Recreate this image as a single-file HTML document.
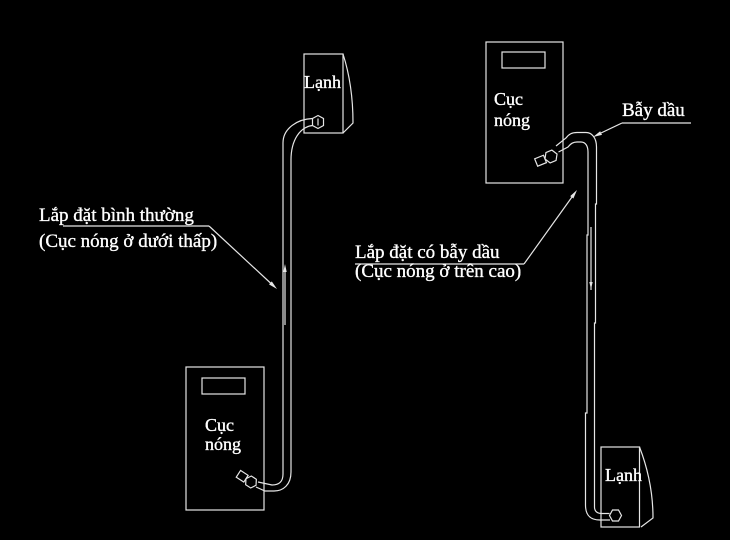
<!DOCTYPE html>
<html>
<head>
<meta charset="utf-8">
<style>
  html, body { margin:0; padding:0; background:#000; }
  body { width:730px; height:540px; overflow:hidden; }
  svg { display:block; }
  text { font-family: "Liberation Serif", "DejaVu Serif", serif; fill:#fff; stroke:#fff; stroke-width:0.35; }
</style>
</head>
<body>
<svg width="730" height="540" viewBox="0 0 730 540" xmlns="http://www.w3.org/2000/svg">
  <rect x="0" y="0" width="730" height="540" fill="#000"/>
  <g fill="none" stroke="#e6e6e6" stroke-width="1.2">
    <!-- LEFT: indoor unit (Lạnh) top -->
    <rect x="304" y="54" width="39" height="79"/>
    <path d="M343,54 Q353,85 353,123 L343,133"/>
    <polygon points="318,115.5 323.5,118.5 323.5,125.5 318,128.5 312.5,125.5 312.5,118.5"/>
    <line x1="318" y1="118.5" x2="318" y2="125.5"/>
    <!-- left pipe -->
    <path d="M312.5,118.5 C298,119 283,128 283,143 L283,474 C283,482 279,485 272,485 L258,482"/>
    <path d="M312.5,125.5 C300,127 291,140 291,160 L291,472 C291,485 283,491 274,491 L265,491 L256,487"/>
    <!-- left outdoor unit (Cục nóng) bottom -->
    <rect x="186" y="367" width="78" height="143"/>
    <rect x="202" y="378" width="43" height="16"/>
    <g transform="translate(251,482) rotate(33)">
      <polygon points="6,0 3,5.2 -3,5.2 -6,0 -3,-5.2 3,-5.2"/>
      <rect x="-15" y="-4" width="9" height="8"/>
    </g>

    <!-- RIGHT: outdoor unit top -->
    <rect x="486" y="42" width="77" height="141"/>
    <rect x="502" y="52" width="43" height="16"/>
    <g transform="translate(551,156.5) rotate(-22)">
      <polygon points="6.5,0 3.2,5.6 -3.2,5.6 -6.5,0 -3.2,-5.6 3.2,-5.6"/>
      <rect x="-16" y="-4" width="9.5" height="8"/>
    </g>
    <!-- oil trap + right pipe -->
    <path d="M556,146 L566,138 C569,134 572,132.5 577,132.5 L586,132.5 C592,132.5 596.5,138 596.5,147 L596.5,204 L595.5,204 L595.5,323 L594.5,323 L594.5,507 C594.5,511 597,513.5 602,513.5 L609.5,513.5"/>
    <path d="M558.5,152 L568,147 C571,143.5 573,142 577,142 L581,142 C585.5,142 588,146 588,152 L588,235 L587,235 L587,413 L585.5,413 L585.5,505 C585.5,515 590,520 600,520 L610,520"/>
    <!-- right indoor unit (Lạnh) bottom -->
    <rect x="601" y="447" width="38.5" height="80"/>
    <path d="M639.5,447 Q653,482 653,518 L641,527"/>
    <polygon points="609.5,515.5 612.5,510 618.5,510 621.5,515.5 618.5,521 612.5,521"/>

    <!-- leader lines -->
    <line x1="63" y1="226" x2="209" y2="226"/>
    <line x1="209" y1="226" x2="271" y2="283.5"/>
    <line x1="355" y1="264" x2="524" y2="264"/>
    <line x1="524" y1="264" x2="572" y2="197"/>
    <line x1="622" y1="123" x2="691" y2="123"/>
    <line x1="622" y1="123" x2="601" y2="133"/>

    <!-- flow arrows inside pipes -->
    <line x1="285" y1="271" x2="285" y2="325"/>
    <line x1="591" y1="227" x2="591" y2="290"/>
  </g>
  <g fill="#e6e6e6" stroke="none">
    <polygon points="277,289 269,284.4 271.8,281.4"/>
    <polygon points="577,190 573.4,198.5 570.2,196.1"/>
    <polygon points="593,137 600.2,131.3 602,134.9"/>
    <polygon points="285,264 283.3,272 286.7,272"/>
    <polygon points="591,289 589.3,282 592.7,282"/>
  </g>

  <!-- box labels -->
  <text x="304" y="88" font-size="18">Lạnh</text>
  <text x="205" y="431" font-size="18">Cục</text>
  <text x="205" y="450" font-size="18">nóng</text>
  <text x="494" y="105" font-size="18">Cục</text>
  <text x="494" y="126" font-size="18">nóng</text>
  <text x="605" y="481" font-size="18">Lạnh</text>

  <!-- annotations -->
  <text x="622" y="116" font-size="19">Bẫy dầu</text>
  <text x="39" y="221" font-size="19">Lắp đặt bình thường</text>
  <text x="39" y="247" font-size="19">(Cục nóng ở dưới thấp)</text>
  <text x="355" y="258" font-size="19">Lắp đặt có bẫy dầu</text>
  <text x="355" y="277" font-size="19">(Cục nóng ở trên cao)</text>
</svg>
</body>
</html>
